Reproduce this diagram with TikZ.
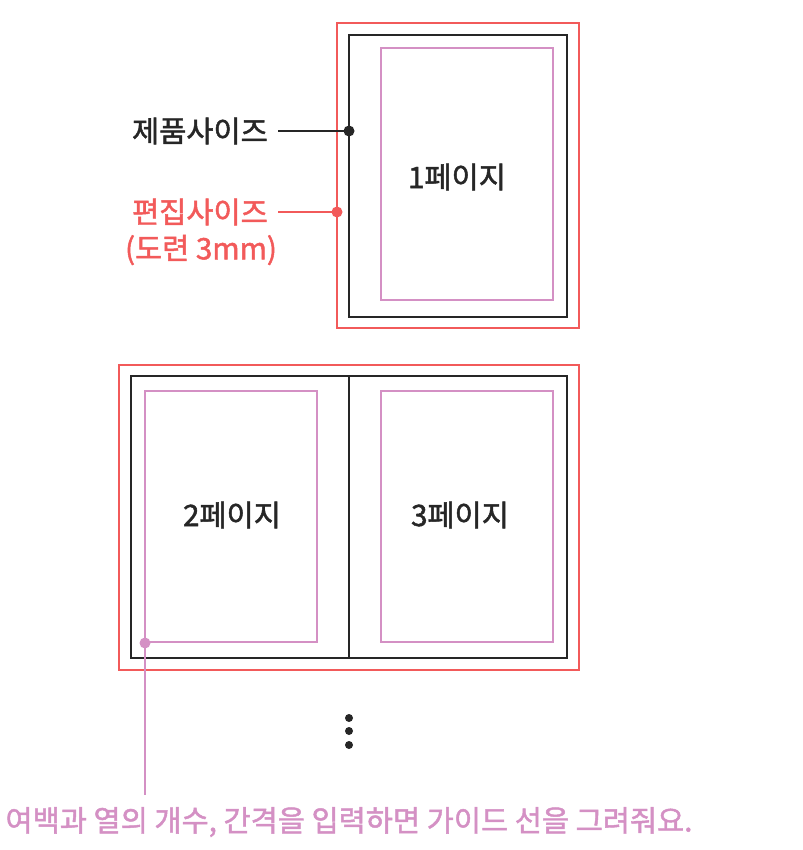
\documentclass[tikz,border=0pt]{standalone}
\usepackage{fontspec}
\setmainfont{Noto Sans CJK KR}[FakeBold=1.6]
\begin{document}
\begin{tikzpicture}[x=1pt,y=-1pt,
  redc/.style={draw=myred,line width=2pt},
  blk/.style={draw=myblack,line width=2pt},
  pnk/.style={draw=mypink,line width=2pt},
  lbl/.style={font=\fontsize{29.5}{34}\selectfont,inner sep=0pt},
  lead/.style={line width=1.5pt}]
\definecolor{myred}{HTML}{F25A5A}
\definecolor{myblack}{HTML}{262626}
\definecolor{mypink}{HTML}{D490C4}
\useasboundingbox (0,0) rectangle (802,850);
% top page
\draw[redc] (337,23) rectangle (579,328);
\draw[blk] (349,35) rectangle (567,317);
\draw[pnk] (381,48) rectangle (553,300);
\node[lbl,text=myblack] (p1) at (457,177) {1페이지};
% labels
\node[lbl,text=myblack,anchor=east] (l1) at (268,131) {제품사이즈};
\node[lbl,text=myred,anchor=east] (l2) at (268,212) {편집사이즈};
\node[lbl,text=myred] (l3) at (201,250) {(도련 3mm)};
\coordinate (d1) at (349,131);
\coordinate (d2) at (337,212);
\draw[lead,myblack] ([xshift=10pt]l1.east) -- (d1);
\fill[myblack] (d1) circle (5.5pt);
\draw[lead,myred] ([xshift=10pt]l2.east) -- (d2);
\fill[myred] (d2) circle (5.5pt);
% bottom spread
\draw[redc] (119,365) rectangle (579,670);
\draw[blk] (131,376) rectangle (567,658);
\draw[blk] (349,376) -- (349,658);
\draw[pnk] (145,391) rectangle (317,642);
\draw[pnk] (381,391) rectangle (553,642);
\node[lbl,text=myblack] (p2) at (232,515) {2페이지};
\node[lbl,text=myblack] (p3) at (460,515) {3페이지};
% dots
\fill[myblack] (349,718) circle (4pt) (349,731) circle (4pt) (349,745) circle (4pt);
% guide note
\coordinate (d3) at (145,643);
\node[lbl,text=mypink] (note) at (349,822) {여백과 열의 개수, 간격을 입력하면 가이드 선을 그려줘요.};
\coordinate (e3) at (145,795);
\draw[lead,mypink] (d3) -- (e3);
\fill[mypink] (d3) circle (5.5pt);
\end{tikzpicture}
\end{document}
